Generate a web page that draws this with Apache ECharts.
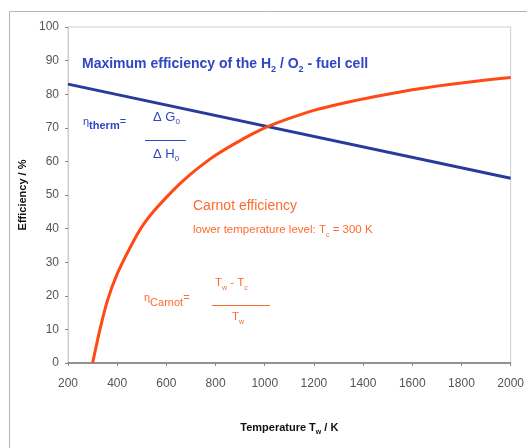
<!DOCTYPE html>
<html>
<head>
<meta charset="utf-8">
<script src="https://cdn.jsdelivr.net/npm/echarts@6/dist/echarts.min.js"></script>
<style>
  html, body { margin: 0; padding: 0; background: #fff; }
  #chart { width: 527px; height: 448px; }
</style>
</head>
<body>
<div id="chart"></div>
<script>
const FONT = "'Liberation Sans', Arial, sans-serif";

// upper temperature level (K) vs efficiency (%)
const fuelCellT = [200, 2000];
const fuelCellEff = [83, 55];

const carnotT = [300, 330, 360, 400, 450, 500, 550, 600, 650, 700, 750, 800, 850, 900, 950, 1000,
  1100, 1200, 1300, 1400, 1500, 1600, 1700, 1800, 1900, 2000];
const carnotEff = [0, 10, 18.5, 26.5, 34, 40.5, 45.3, 49.3, 53, 56.3, 59.2, 61.8, 64.1, 66.2, 68.2, 70,
  72.8, 75.2, 77, 78.6, 80, 81.3, 82.4, 83.3, 84.2, 85];

const BLUE = "#283a9c";
const BLUE_TXT = "#3046c2";
const ORANGE = "#ff4a16";
const ORANGE_TXT = "#ff6a30";

const chart = echarts.init(document.getElementById("chart"));

function pairs(xs, ys) {
  return xs.map((x, i) => [x, ys[i]]);
}

function subText(left, top, text, color, size, subSize, drop, bold) {
  return {
    type: "text", left, top,
    style: {
      text,
      rich: {
        a: { fontFamily: FONT, fontWeight: bold ? "bold" : "normal", fontSize: size, fill: color, lineHeight: size + 5, verticalAlign: "bottom" },
        s: { fontFamily: FONT, fontWeight: bold ? "bold" : "normal", fontSize: subSize, fill: color, lineHeight: size + 5, verticalAlign: "bottom", padding: [0, 0, -drop, 0] },
      },
    },
  };
}

chart.setOption({
  animation: false,
  grid: { left: 68, right: 11, top: 27, bottom: 85, show: true, borderColor: "#cfcfcf", borderWidth: 1 },
  xAxis: {
    type: "value",
    min: 200,
    max: 2000,
    interval: 200,
    name: "{a|Temperature T}{s|w}{a| / K}",
    nameLocation: "middle",
    nameGap: 54,
    nameTextStyle: {
      rich: {
        a: { fontFamily: FONT, fontWeight: "bold", fontSize: 11, color: "#111", lineHeight: 16, verticalAlign: "bottom" },
        s: { fontFamily: FONT, fontWeight: "bold", fontSize: 7, color: "#111", lineHeight: 16, verticalAlign: "bottom", padding: [0, 0, -3, 0] },
      },
    },
    axisLine: { lineStyle: { color: "#777", width: 1.5 } },
    axisTick: { show: true, length: 3, lineStyle: { color: "#888" } },
    axisLabel: { color: "#555", fontFamily: FONT, fontSize: 12, margin: 15, formatter: (v) => String(v) },
    splitLine: { show: false },
  },
  yAxis: {
    type: "value",
    min: 0,
    max: 100,
    interval: 10,
    name: "Efficiency / %",
    nameLocation: "middle",
    nameGap: 40,
    nameTextStyle: { fontFamily: FONT, fontWeight: "bold", fontSize: 11, color: "#111" },
    axisLine: { show: true, lineStyle: { color: "#cfcfcf" } },
    axisTick: { show: true, length: 3, lineStyle: { color: "#888" } },
    axisLabel: { color: "#555", fontFamily: FONT, fontSize: 12, margin: 9, formatter: (v) => String(v) },
    splitLine: { show: false },
  },
  series: [
    {
      type: "line",
      data: pairs(fuelCellT, fuelCellEff),
      showSymbol: false,
      lineStyle: { color: BLUE, width: 3 },
    },
    {
      type: "line",
      data: pairs(carnotT, carnotEff),
      showSymbol: false,
      smooth: 0.2,
      lineStyle: { color: ORANGE, width: 3 },
    },
  ],
  graphic: [
    // outer frame
    { type: "rect", shape: { x: 9.5, y: 11.5, width: 540, height: 460 }, style: { fill: null, stroke: "#b5b5b5", lineWidth: 1 }, silent: true },
    subText(82, 57, "{a|Maximum efficiency of the H}{s|2}{a| / O}{s|2}{a| - fuel cell}", BLUE_TXT, 14, 9, 3, true),
    // eta therm = dG0 / dH0
    {
      type: "text", left: 83, top: 116,
      style: {
        text: "{a|η}{s|therm}{a|=}",
        rich: {
          a: { fontFamily: FONT, fontSize: 11, fill: BLUE_TXT, lineHeight: 16, verticalAlign: "bottom" },
          s: { fontFamily: FONT, fontWeight: "bold", fontSize: 11, fill: BLUE_TXT, lineHeight: 16, verticalAlign: "bottom", padding: [0, 0, -4, 0] },
        },
      },
    },
    subText(153, 111, "{a|Δ G}{s|0}", BLUE_TXT, 13, 8, 2, false),
    { type: "line", shape: { x1: 145, y1: 140.5, x2: 186, y2: 140.5 }, style: { stroke: BLUE_TXT, lineWidth: 1.2 } },
    subText(153, 148, "{a|Δ H}{s|0}", BLUE_TXT, 13, 8, 2, false),
    // Carnot labels
    {
      type: "text", left: 193, top: 199,
      style: { text: "Carnot efficiency", fontFamily: FONT, fontSize: 14, fill: ORANGE_TXT },
    },
    subText(193, 224, "{a|lower temperature level: T}{s|c}{a| = 300 K}", ORANGE_TXT, 11.5, 7, 3, false),
    {
      type: "text", left: 144, top: 292,
      style: {
        text: "{a|η}{s|Carnot}{a|=}",
        rich: {
          a: { fontFamily: FONT, fontSize: 11, fill: ORANGE_TXT, lineHeight: 16, verticalAlign: "bottom" },
          s: { fontFamily: FONT, fontSize: 11, fill: ORANGE_TXT, lineHeight: 16, verticalAlign: "bottom", padding: [0, 0, -5, 0] },
        },
      },
    },
    subText(215, 277, "{a|T}{s|w}{a| - T}{s|c}", ORANGE_TXT, 11.5, 7, 3, false),
    { type: "line", shape: { x1: 212, y1: 305.5, x2: 270, y2: 305.5 }, style: { stroke: ORANGE_TXT, lineWidth: 1.2 } },
    subText(232, 311, "{a|T}{s|w}", ORANGE_TXT, 11.5, 7, 3, false),
  ],
});

window.addEventListener("resize", () => chart.resize());
</script>
</body>
</html>
